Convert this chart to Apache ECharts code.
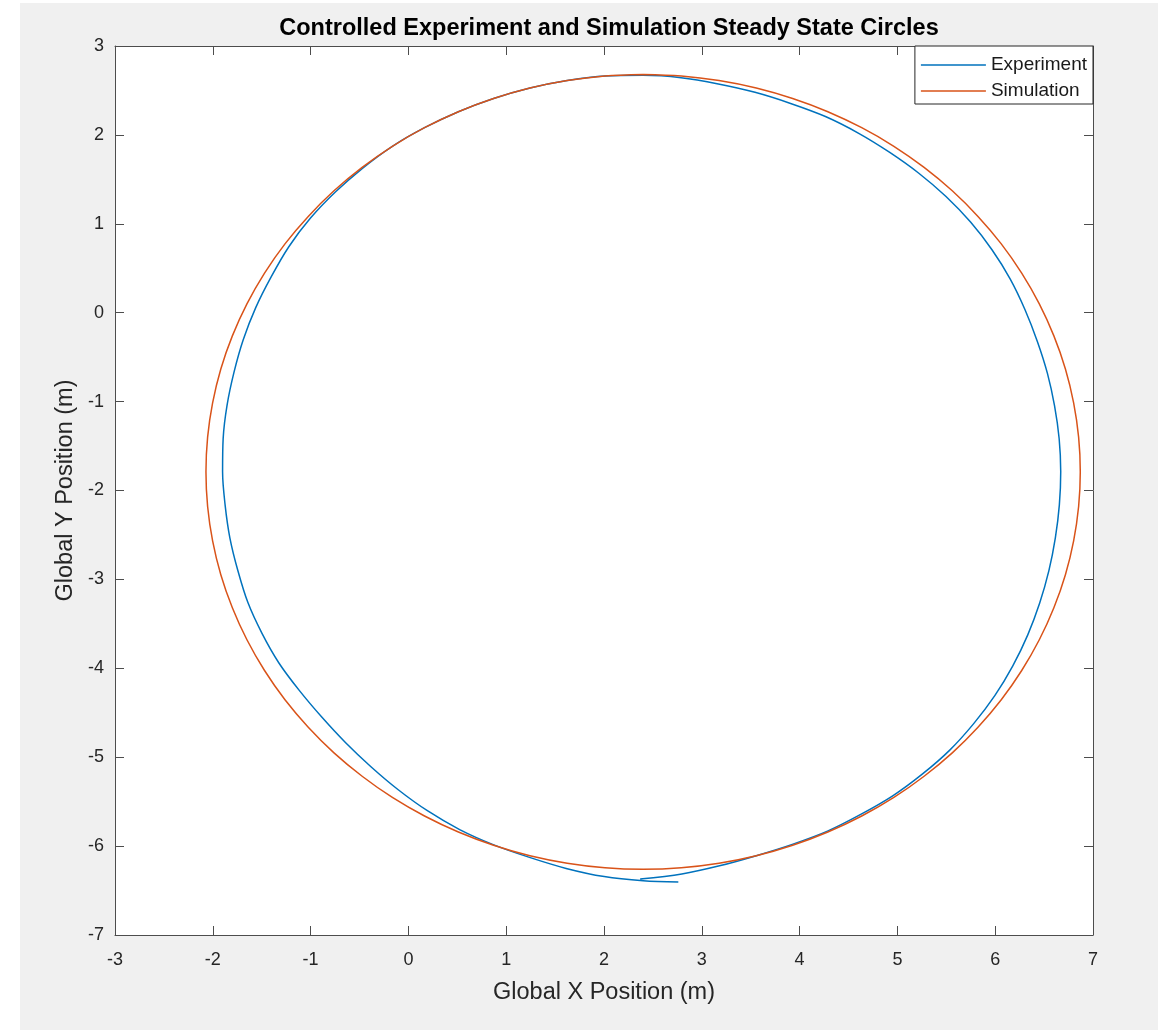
<!DOCTYPE html>
<html>
<head>
<meta charset="utf-8">
<script src="https://cdn.jsdelivr.net/npm/echarts@6/dist/echarts.min.js"></script>
<style>
  body{ margin:0; background:#fff; }
  #bg{ position:absolute; left:20px; top:3px; width:1138px; height:1027px; background:#f0f0f0; }
  #chart{ position:absolute; left:0; top:0; width:1163px; height:1030px; }
</style>
</head>
<body>
<div id="bg"></div>
<div id="chart"></div>
<script>
// experiment path (m), starts at the bottom and runs anticlockwise
var expX = [2.370, 2.796, 3.181, 3.557, 3.925, 4.285, 4.625, 4.952, 5.254, 5.533, 5.778, 5.996, 6.180, 6.333, 6.455, 6.549, 6.615, 6.656,
  6.670, 6.654, 6.607, 6.534, 6.431, 6.306, 6.154, 5.967, 5.748, 5.497, 5.219, 4.918, 4.600, 4.264, 3.908, 3.544, 3.169, 2.788,
  2.400, 2.010, 1.624, 1.243, 0.871, 0.511, 0.165, -0.164, -0.467, -0.747, -1.001, -1.221, -1.402, -1.561, -1.688, -1.783, -1.854, -1.894,
  -1.900, -1.874, -1.825, -1.744, -1.641, -1.497, -1.324, -1.114, -0.886, -0.644, -0.383, -0.104, 0.198, 0.524, 0.873, 1.238, 1.613, 2.002,
  2.400, 2.760];
var expY = [-6.370, -6.313, -6.222, -6.108, -5.981, -5.832, -5.644, -5.435, -5.191, -4.923, -4.625, -4.308, -3.973, -3.624, -3.266, -2.902, -2.533, -2.162,
  -1.790, -1.418, -1.048, -0.682, -0.323, 0.031, 0.378, 0.708, 1.019, 1.307, 1.569, 1.806, 2.021, 2.207, 2.354, 2.479, 2.573, 2.643,
  2.670, 2.663, 2.612, 2.528, 2.410, 2.261, 2.081, 1.872, 1.627, 1.357, 1.064, 0.745, 0.405, 0.057, -0.302, -0.669, -1.040, -1.414,
  -1.790, -2.164, -2.535, -2.900, -3.261, -3.607, -3.940, -4.251, -4.548, -4.834, -5.107, -5.366, -5.605, -5.814, -5.986, -6.127, -6.251, -6.343,
  -6.390, -6.405];
// simulation steady state circle, starting at the top
var simX = [2.400, 2.010, 1.624, 1.243, 0.871, 0.511, 0.165, -0.164, -0.473, -0.761, -1.024, -1.262, -1.471, -1.651, -1.800, -1.918, -2.002, -2.053,
  -2.070, -2.053, -2.002, -1.918, -1.800, -1.651, -1.471, -1.262, -1.024, -0.761, -0.473, -0.164, 0.165, 0.511, 0.871, 1.243, 1.624, 2.010,
  2.400, 2.790, 3.176, 3.557, 3.929, 4.289, 4.635, 4.964, 5.273, 5.561, 5.824, 6.062, 6.271, 6.451, 6.600, 6.718, 6.802, 6.853,
  6.870, 6.853, 6.802, 6.718, 6.600, 6.451, 6.271, 6.062, 5.824, 5.561, 5.273, 4.964, 4.635, 4.289, 3.929, 3.557, 3.176, 2.790, 2.400];
var simY = [2.680, 2.663, 2.612, 2.528, 2.410, 2.261, 2.081, 1.872, 1.634, 1.371, 1.083, 0.774, 0.445, 0.099, -0.261, -0.633, -1.014, -1.400,
  -1.790, -2.180, -2.566, -2.947, -3.319, -3.679, -4.025, -4.354, -4.663, -4.951, -5.214, -5.452, -5.661, -5.841, -5.990, -6.108, -6.192, -6.243,
  -6.260, -6.243, -6.192, -6.108, -5.990, -5.841, -5.661, -5.452, -5.214, -4.951, -4.663, -4.354, -4.025, -3.679, -3.319, -2.947, -2.566, -2.180,
  -1.790, -1.400, -1.014, -0.633, -0.261, 0.099, 0.445, 0.774, 1.083, 1.371, 1.634, 1.872, 2.081, 2.261, 2.410, 2.528, 2.612, 2.663, 2.680];

function zip(a, b){ return a.map(function(v, i){ return [v, b[i]] }) }

var font = "'Liberation Sans', Arial, sans-serif"
var axisCol = '#262626'
var myChart = echarts.init(document.getElementById('chart'))

function xAx(pos, labels){
  return {
    type:'value', position:pos, min:-3, max:7, interval:1,
    name: labels ? 'Global X Position (m)' : '', nameLocation:'middle', nameGap:46,
    nameTextStyle:{ fontFamily:font, fontSize:23.5, color:axisCol },
    axisLine:{ show:true, onZero:false, lineStyle:{ color:'#4d4d4d', width:1 } },
    axisTick:{ show:true, inside:true, length:9, lineStyle:{ color:'#4d4d4d' } },
    axisLabel:{ show:labels, margin:16, fontFamily:font, fontSize:18, color:axisCol },
    splitLine:{ show:false }
  }
}
function yAx(pos, labels){
  return {
    type:'value', position:pos, min:-7, max:3, interval:1,
    name: labels ? 'Global Y Position (m)' : '', nameLocation:'middle', nameGap:36,
    nameTextStyle:{ fontFamily:font, fontSize:23.5, color:axisCol },
    axisLine:{ show:true, onZero:false, lineStyle:{ color:'#4d4d4d', width:1 } },
    axisTick:{ show:true, inside:true, length:9, lineStyle:{ color:'#4d4d4d' } },
    axisLabel:{ show:labels, margin:11, fontFamily:font, fontSize:18, color:axisCol },
    splitLine:{ show:false }
  }
}

myChart.setOption({
  backgroundColor:'transparent',
  animation:false,
  title:{
    text:'Controlled Experiment and Simulation Steady State Circles',
    left:604, top:12, textAlign:'center',
    textStyle:{ fontFamily:font, fontSize:23.5, fontWeight:'bold', color:'#000' }
  },
  legend:{
    right:70, top:46, orient:'vertical', icon:'rect',
    backgroundColor:'#fff', borderColor:'#262626', borderWidth:1, borderRadius:0,
    padding:[6, 6, 0, 6], itemGap:0, itemWidth:65, itemHeight:1.6,
    textStyle:{ fontFamily:font, fontSize:19, lineHeight:26, color:'#1a1a1a' },
    data:['Experiment', 'Simulation']
  },
  grid:{ left:115, right:70, top:46, bottom:95, show:true, backgroundColor:'#fff', borderWidth:0 },
  xAxis:[ xAx('bottom', true), xAx('top', false) ],
  yAxis:[ yAx('left', true), yAx('right', false) ],
  series:[
    {
      name:'Experiment', type:'line', data:zip(expX, expY), smooth:0.33,
      symbol:'none', color:'#0072BD', lineStyle:{ width:1.5 }
    },
    {
      name:'Simulation', type:'line', data:zip(simX, simY), smooth:0.33,
      symbol:'none', color:'#D95319', lineStyle:{ width:1.5 }
    }
  ]
})
</script>
</body>
</html>
